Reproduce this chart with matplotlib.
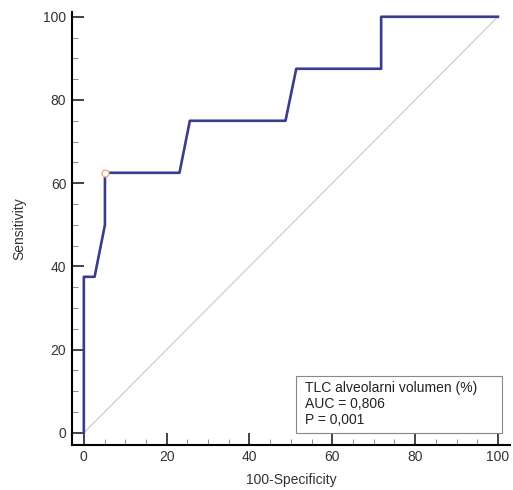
from matplotlib import pyplot as plt
from matplotlib.ticker import MultipleLocator
from matplotlib.patches import Rectangle

# ROC curve points (100-Specificity, Sensitivity)
fpr = [0, 0, 2.6, 5.1, 5.1, 23.1, 25.6, 48.7, 51.3, 71.8, 71.8, 100]
tpr = [0, 37.5, 37.5, 50, 62.5, 62.5, 75, 75, 87.5, 87.5, 100, 100]
cut_x = [5.1]
cut_y = [62.5]
legend_lines = ['TLC alveolarni volumen (%)', 'AUC = 0,806', 'P = 0,001']

plt.rcParams['font.family'] = ['Liberation Sans', 'DejaVu Sans']

fig = plt.figure(figsize=(5.13, 4.9), dpi=100)
ax = fig.add_axes([0.140, 0.092, 0.854, 0.884])

ax.plot([0, 100], [0, 100], color='#c8c8c8', lw=0.8, zorder=1)
ax.plot(fpr, tpr, color='#3c3c8e', lw=1.9, zorder=2)
ax.plot(cut_x, cut_y, 'o', ms=5, mfc='white', mec='#e8b080', mew=1, zorder=3)

ax.set_xlim(-2.9, 102.9)
ax.set_ylim(-2.9, 101.2)
ax.xaxis.set_major_locator(MultipleLocator(20))
ax.xaxis.set_minor_locator(MultipleLocator(5))
ax.yaxis.set_major_locator(MultipleLocator(20))
ax.yaxis.set_minor_locator(MultipleLocator(5))
ax.tick_params(which='major', direction='in', length=8.5, width=1.2, labelsize=10,
               color='#222222', labelcolor='#333333', pad=4)
ax.tick_params(which='minor', direction='in', length=4, width=0.6, color='#777777')
for s in ['top', 'right']:
    ax.spines[s].set_visible(False)
for s in ['left', 'bottom']:
    ax.spines[s].set_linewidth(1.5)
ax.set_xlabel('100-Specificity', fontsize=10, labelpad=6, color='#333333')
ax.set_ylabel('Sensitivity', fontsize=10, labelpad=12, color='#333333')

# legend box
ax.add_patch(Rectangle((51.2, 0.0), 49.7, 13.7, fc='white', ec='#888888', lw=0.8, zorder=4))
ax.text(53.4, 12.4, '\n'.join(legend_lines), fontsize=10, va='top', ha='left',
        linespacing=1.15, color='#222222', zorder=5)

plt.savefig('out.png', dpi=100)
